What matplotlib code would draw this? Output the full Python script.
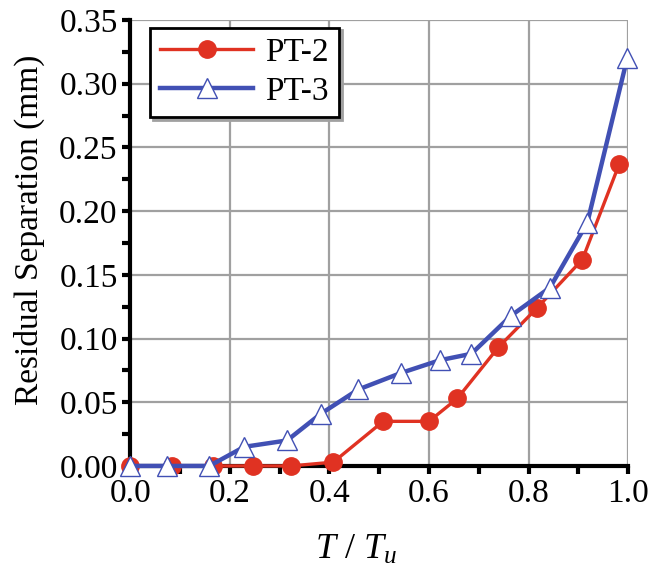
import matplotlib
matplotlib.use('Agg')
import matplotlib.pyplot as plt
from matplotlib.ticker import MultipleLocator

plt.rcParams['font.family'] = ['Liberation Serif', 'DejaVu Serif']
plt.rcParams['mathtext.fontset'] = 'custom'
plt.rcParams['mathtext.it'] = 'Liberation Serif:italic'
plt.rcParams['mathtext.rm'] = 'Liberation Serif'

# 数据
pt2_x = [0.0, 0.084, 0.167, 0.247, 0.323, 0.408, 0.508, 0.600, 0.657, 0.739, 0.817, 0.908, 0.982]
pt2_y = [0.0, 0.0, 0.0, 0.0, 0.0, 0.003, 0.035, 0.035, 0.053, 0.093, 0.124, 0.162, 0.237]
pt3_x = [0.0, 0.074, 0.159, 0.229, 0.315, 0.383, 0.458, 0.544, 0.622, 0.685, 0.765, 0.843, 0.918, 0.998]
pt3_y = [0.0, 0.0, 0.0, 0.015, 0.020, 0.041, 0.060, 0.073, 0.083, 0.088, 0.118, 0.140, 0.191, 0.320]

fig = plt.figure(figsize=(6.51, 5.71), dpi=100)
ax = fig.add_axes([0.2, 0.184, 0.765, 0.781])

ax.plot(pt2_x, pt2_y, color='#e03222', lw=2.4, marker='o', ms=12.5,
        mec='#e03222', mfc='#e03222', label='PT-2', clip_on=False, zorder=3)
ax.plot(pt3_x, pt3_y, color='#4150b4', lw=3.2, marker='^', ms=14,
        mec='#4150b4', mfc='white', mew=1.0, label='PT-3', clip_on=False, zorder=4)

ax.set_xlim(0, 1.0)
ax.set_ylim(0, 0.35)
ax.xaxis.set_major_locator(MultipleLocator(0.2))
ax.xaxis.set_minor_locator(MultipleLocator(0.1))
ax.yaxis.set_major_locator(MultipleLocator(0.05))
ax.yaxis.set_minor_locator(MultipleLocator(0.025))
ax.set_xticklabels([f'{v:.1f}' for v in ax.get_xticks()])
ax.set_yticklabels([f'{v:.2f}' for v in ax.get_yticks()])

ax.grid(True, which='major', color='#a0a0a0', lw=1.6)
ax.set_axisbelow(True)
for s in ['top', 'right']:
    ax.spines[s].set_visible(False)
for s in ['left', 'bottom']:
    ax.spines[s].set_linewidth(3)
ax.tick_params(which='both', direction='out', width=3, length=6, labelsize=24, pad=3)

ax.set_ylabel('Residual Separation (mm)', fontsize=24)
ax.yaxis.set_label_coords(-0.172, 0.529)
ax.set_xlabel(r'$T$ / $T_u$', fontsize=26)
ax.xaxis.set_label_coords(0.454, -0.152)

leg = ax.legend(loc='upper left', bbox_to_anchor=(0.04, 0.983), fontsize=24,
                frameon=True, fancybox=False, shadow={'color': '#a0a0a0', 'alpha': 1},
                handlelength=2.8, handletextpad=0.35, borderpad=0.3, labelspacing=0.25,
                borderaxespad=0)
leg.get_frame().set_edgecolor('black')
leg.get_frame().set_linewidth(2)
leg.get_frame().set_alpha(1)

fig.savefig('out.png', dpi=100)
